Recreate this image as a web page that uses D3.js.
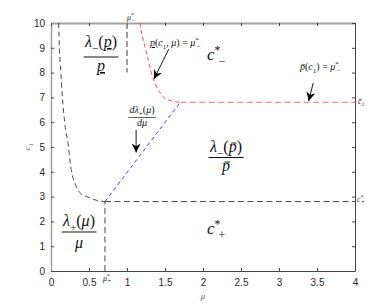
<!DOCTYPE html>
<html>
<head>
<meta charset="utf-8">
<script src="https://cdn.jsdelivr.net/npm/d3@7"></script>
<style>
  body { margin: 0; background: #fff; }
  svg { display: block; }
</style>
</head>
<body>
<svg id="chart" width="392" height="305"></svg>
<script>
// tick values
var xTicks = [0, 0.5, 1, 1.5, 2, 2.5, 3, 3.5, 4];
var yTicks = [0, 1, 2, 3, 4, 5, 6, 7, 8, 9, 10];

// special points
var muPlus = 0.71, cPlus = 2.8;
var muMinus = 1.0, cMinusTop = 8.0;
var cBar = 6.8;

// lambda_+(mu)/mu curve (black dashed)
var lamPlusMu = [0.10, 0.11, 0.13, 0.15, 0.18, 0.23, 0.26, 0.32, 0.40, 0.47, 0.60, 0.71];
var lamPlusC  = [10,   9,    8,    7,    6,    5,    4.2,  3.5,  3.1,  3.0,  2.85, 2.8];

// p(c1,mu) = mu_-^* curve then flat at c-bar (red dashed)
var redMu = [1.17, 1.20, 1.24, 1.28, 1.32, 1.38, 1.47, 1.58, 1.70];
var redC  = [10,   9.5,  9,    8.5,  8,    7.5,  7.05, 6.86, 6.8];

// d lambda_+/d mu line (blue dashed)
var blueMu = [0.71, 1.70];
var blueC  = [2.8, 6.8];

var svg = d3.select("#chart");
var x = d3.scaleLinear().domain([0, 4]).range([51, 355]);
var y = d3.scaleLinear().domain([0, 10]).range([271, 23]);

var sans = "'Liberation Sans', Arial, sans-serif";
var serif = "'Liberation Serif', 'Times New Roman', serif";
var fmt = d3.format("~g");

// arrow marker
svg.append("defs").append("marker")
  .attr("id", "head")
  .attr("viewBox", "0 0 10 10")
  .attr("refX", 10).attr("refY", 5)
  .attr("markerWidth", 10).attr("markerHeight", 9)
  .attr("markerUnits", "userSpaceOnUse")
  .attr("orient", "auto")
  .append("path")
  .attr("d", "M0,0 L10,5 L0,10 L3,5 Z")
  .attr("fill", "#000");

// axes (inward ticks on all sides)
var gx = svg.append("g").attr("transform", "translate(0," + y(0) + ")")
  .call(d3.axisBottom(x).tickValues(xTicks).tickFormat(fmt).tickSizeInner(-3).tickSizeOuter(0).tickPadding(8));
var gy = svg.append("g").attr("transform", "translate(" + x(0) + ",0)")
  .call(d3.axisLeft(y).tickValues(yTicks).tickFormat(fmt).tickSizeInner(-3).tickSizeOuter(0).tickPadding(6));
var gt = svg.append("g").attr("transform", "translate(0," + y(10) + ")")
  .call(d3.axisTop(x).tickValues(xTicks).tickSizeInner(-3).tickSizeOuter(0).tickFormat(""));
var gr = svg.append("g").attr("transform", "translate(" + x(4) + ",0)")
  .call(d3.axisRight(y).tickValues(yTicks).tickSizeInner(-3).tickSizeOuter(0).tickFormat(""));

[gx, gy, gt, gr].forEach(function(g) {
  g.selectAll("text").attr("font-family", sans).attr("font-size", 10).attr("fill", "#262626");
  g.selectAll("line").attr("stroke", "#444");
  g.select(".domain").attr("stroke", "#444");
});
gy.select(".domain").attr("stroke", "#a0a0a0").attr("stroke-width", 1.5);
gt.select(".domain").attr("stroke", "#a0a0a0").attr("stroke-width", 2);

// curves
var line = d3.line()
  .x(function(d) { return x(d[0]); })
  .y(function(d) { return y(d[1]); });

svg.append("path")
  .datum(d3.zip(lamPlusMu, lamPlusC))
  .attr("d", line.curve(d3.curveMonotoneX))
  .attr("fill", "none").attr("stroke", "#333").attr("stroke-width", 0.9)
  .attr("stroke-dasharray", "5,3.5");

svg.append("path")
  .datum(d3.zip(redMu, redC))
  .attr("d", line.curve(d3.curveMonotoneX))
  .attr("fill", "none").attr("stroke", "#f33").attr("stroke-width", 0.9)
  .attr("stroke-dasharray", "4,3");

svg.append("path")
  .datum([[redMu[redMu.length - 1], cBar], [4, cBar]])
  .attr("d", line.curve(d3.curveLinear))
  .attr("fill", "none").attr("stroke", "#f88").attr("stroke-width", 1.4)
  .attr("stroke-dasharray", "6,3.5");

svg.append("path")
  .datum(d3.zip(blueMu, blueC))
  .attr("d", line.curve(d3.curveLinear))
  .attr("fill", "none").attr("stroke", "#2233ee").attr("stroke-width", 0.9)
  .attr("stroke-dasharray", "4,3");

// c_+^* horizontal and mu_+^* vertical
svg.append("path")
  .datum([[muPlus, cPlus], [4, cPlus]])
  .attr("d", line)
  .attr("fill", "none").attr("stroke", "#333").attr("stroke-width", 0.9)
  .attr("stroke-dasharray", "6,3.5");
svg.append("path")
  .datum([[muPlus, 0], [muPlus, cPlus]])
  .attr("d", line)
  .attr("fill", "none").attr("stroke", "#333").attr("stroke-width", 0.9)
  .attr("stroke-dasharray", "6,3.5");

// mu_-^* short grey marker
svg.append("path")
  .datum([[muMinus, 10], [muMinus, cMinusTop]])
  .attr("d", line)
  .attr("fill", "none").attr("stroke", "#888").attr("stroke-width", 1.6)
  .attr("stroke-dasharray", "6,3");

// arrows
function arrow(m0, c0, m1, c1) {
  svg.append("line")
    .attr("x1", x(m0)).attr("y1", y(c0))
    .attr("x2", x(m1)).attr("y2", y(c1))
    .attr("stroke", "#000").attr("stroke-width", 0.9)
    .attr("marker-end", "url(#head)");
}
arrow(1.55, 8.95, 1.355, 7.74);
arrow(3.45, 7.58, 3.39, 6.85);
arrow(1.12, 5.69, 1.12, 4.78);

// math text helper: parts = [text, kind, dx]
// kinds: "sub", "sup", "ul" (underline), "bar" (overbar)
function mtext(x0, y0, parts, fs, anchor) {
  var t = svg.append("text")
    .attr("x", x0).attr("y", y0)
    .attr("font-size", fs)
    .attr("text-anchor", anchor || "middle")
    .attr("font-family", serif)
    .attr("fill", "#111");
  var cur = 0, bars = [];
  parts.forEach(function(p) {
    var s = p[0], k = p[1] || "", dx = p[2];
    var shift = k == "sub" ? 0.3 * fs : k == "sup" ? -0.38 * fs : 0;
    var ts = t.append("tspan").text(s).attr("dy", shift - cur);
    cur = shift;
    if (k == "sub" || k == "sup") ts.attr("font-size", fs * 0.7);
    if (k == "ul") ts.style("text-decoration", "underline");
    if (k == "bar") bars.push(ts);
    if (dx) ts.attr("dx", dx);
    if (/[a-zλμ]/.test(s)) ts.attr("font-style", "italic");
  });
  bars.forEach(function(ts) {
    var e = ts.node().getExtentOfChar(0);
    var yb = y0 - fs * 0.56;
    svg.append("line")
      .attr("x1", e.x + e.width * 0.3).attr("x2", e.x + e.width * 1.0)
      .attr("y1", yb).attr("y2", yb)
      .attr("stroke", "#111").attr("stroke-width", fs > 12 ? 0.9 : 0.6);
  });
  return t;
}

function frac(cx, yNum, yLine, yDen, num, den, fs) {
  var t = mtext(cx, yNum, num, fs);
  var w = t.node().getBBox().width;
  svg.append("line")
    .attr("x1", cx - w / 2 - 1).attr("x2", cx + w / 2 + 1)
    .attr("y1", yLine).attr("y2", yLine)
    .attr("stroke", "#111").attr("stroke-width", fs > 12 ? 1 : 0.7);
  mtext(cx, yDen, den, fs);
}

frac(101, 47, 57, 71,
  [["λ"], ["−", "sub"], ["("], ["p", "ul"], [")"]],
  [["p", "ul"]], 16);
frac(226, 152, 157.5, 171,
  [["λ"], ["−", "sub"], ["("], ["p", "bar"], [")"]],
  [["p", "bar"]], 16);
frac(79, 226, 232, 248,
  [["λ"], ["+", "sub"], ["("], ["μ"], [")"]],
  [["μ"]], 16);
frac(142, 113, 117.5, 126,
  [["d"], ["λ"], ["+", "sub"], ["("], ["μ"], [")"]],
  [["d"], ["μ"]], 10);

// regions
mtext(207, 60, [["c"], ["*", "sup"], ["−", "sub", -2]], 17, "start");
mtext(207, 234, [["c"], ["*", "sup"], ["+", "sub", -2]], 17, "start");

// annotations
mtext(150, 46, [["p", "ul"], ["("], ["c"], ["1", "sub"], [", "], ["μ"], [") = "], ["μ"], ["*", "sup"], ["−", "sub", -2]], 10, "start");
mtext(300, 70, [["p", "bar"], ["("], ["c"], ["1", "sub"], [") = "], ["μ"], ["*", "sup"], ["−", "sub", -2]], 10, "start");

// edge labels
mtext(358, 104, [["c", "bar"], ["1", "sub"]], 8, "start");
mtext(357, 202, [["c"], ["*", "sup"], ["+", "sub", -2]], 8, "start");
mtext(127, 20, [["μ"], ["*", "sup"], ["−", "sub", -2]], 8, "start");
mtext(103, 281, [["μ"], ["*", "sup"], ["+", "sub", -2]], 8, "start");

// axis labels
svg.append("text")
  .attr("x", 203).attr("y", 299)
  .attr("text-anchor", "middle")
  .attr("font-family", serif).attr("font-style", "italic")
  .attr("font-size", 9).attr("fill", "#555")
  .text("μ");
mtext(0, 0, [["c"], ["1", "sub"]], 9)
  .attr("fill", "#555")
  .attr("transform", "translate(30,147) rotate(-90)");
</script>
</body>
</html>
